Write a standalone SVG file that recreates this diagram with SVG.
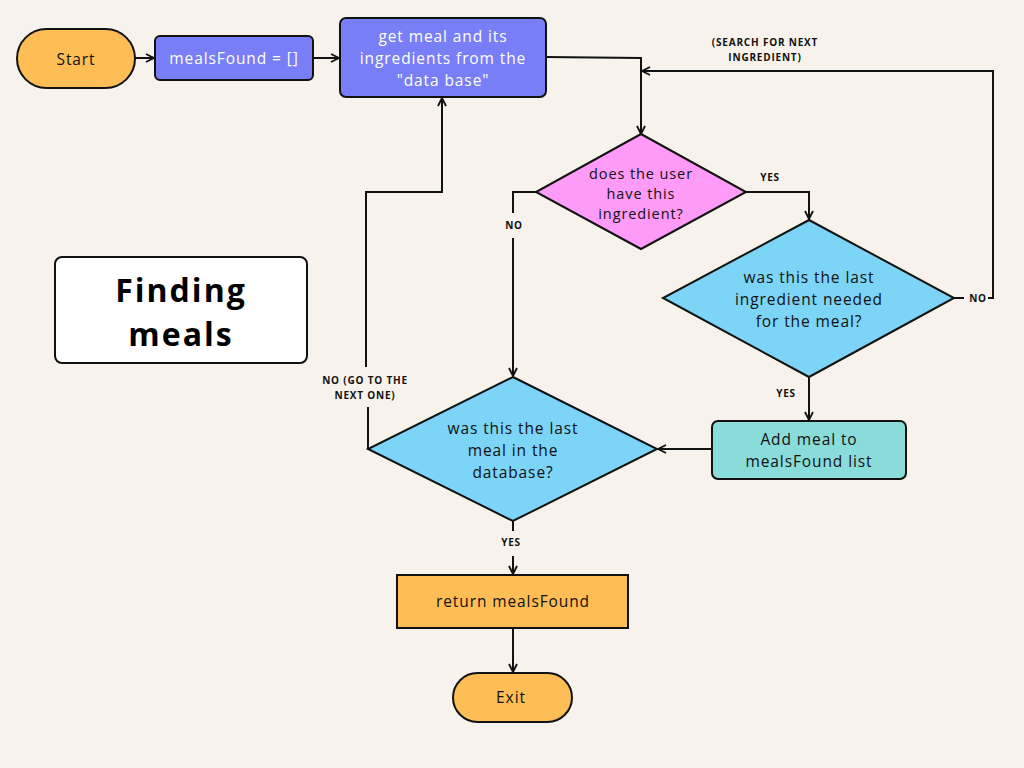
<svg xmlns="http://www.w3.org/2000/svg" width="1024" height="768" viewBox="0 0 1024 768">
<defs>
<marker id="arr" viewBox="0 0 10 10" refX="9" refY="5" markerWidth="10" markerHeight="10" markerUnits="userSpaceOnUse" orient="auto">
<path d="M1,1 L9,5 L1,9" fill="none" stroke="#111" stroke-width="1.8"/>
</marker>
<style>
.c{fill:none;stroke:#111;stroke-width:2}
.n{stroke:#111;stroke-width:2}
.t{font-family:"Open Sans","Liberation Sans",sans-serif;font-size:15.5px;letter-spacing:0.9px;text-anchor:middle;dominant-baseline:central;fill:#111}
.s{font-size:14.5px}
.w{fill:#fff}
.l{font-family:"Open Sans","Liberation Sans",sans-serif;font-size:10px;font-weight:bold;letter-spacing:0.8px;text-anchor:middle;dominant-baseline:central;fill:#111}
.h{font-family:"Open Sans","Liberation Sans",sans-serif;font-size:32px;font-weight:bold;letter-spacing:2px;text-anchor:middle;dominant-baseline:central;fill:#000}
</style>
</defs>
<rect width="1024" height="768" fill="#f7f3ec"/>
<g id="connectors">
<path class="c" d="M135,58 H154" marker-end="url(#arr)"/>
<path class="c" d="M313,58 H339" marker-end="url(#arr)"/>
<path class="c" d="M546,57 L641,58 V134" marker-end="url(#arr)"/>
<path class="c" d="M954,298 H964"/>
<path class="c" d="M988,298 H993 V71 H642" marker-end="url(#arr)"/>
<path class="c" d="M746,192 H809 V219" marker-end="url(#arr)"/>
<path class="c" d="M536,192 H513 V213"/>
<path class="c" d="M513,238 V376" marker-end="url(#arr)"/>
<path class="c" d="M809,377 V420" marker-end="url(#arr)"/>
<path class="c" d="M712,449 H658" marker-end="url(#arr)"/>
<path class="c" d="M368,449 V407"/>
<path class="c" d="M366,367 V192 H442 V98" marker-end="url(#arr)"/>
<path class="c" d="M513,521 V531"/>
<path class="c" d="M513,556 V574" marker-end="url(#arr)"/>
<path class="c" d="M513,628 V672" marker-end="url(#arr)"/>
<text class="l" x="765" y="42">(SEARCH FOR NEXT</text>
<text class="l" x="765" y="57">INGREDIENT)</text>
<text class="l" x="770" y="177">YES</text>
<text class="l" x="978" y="298">NO</text>
<text class="l" x="514" y="225">NO</text>
<text class="l" x="786" y="393">YES</text>
<text class="l" x="365" y="380">NO (GO TO THE</text>
<text class="l" x="365" y="395">NEXT ONE)</text>
<text class="l" x="511" y="542">YES</text>
</g>
<g id="start">
<rect class="n" x="17" y="29" width="118" height="59" rx="29.5" fill="#ffbe55"/>
<text class="t" x="76" y="58.5">Start</text>
</g>
<g id="init">
<rect class="n" x="155" y="36" width="158" height="44" rx="5" fill="#787ef5"/>
<text class="t w" x="234" y="58">mealsFound = []</text>
</g>
<g id="getmeal">
<rect class="n" x="340" y="18" width="206" height="79" rx="6" fill="#787ef5"/>
<text class="t w" x="443" y="36">get meal and its</text>
<text class="t w" x="443" y="58">ingredients from the</text>
<text class="t w" x="443" y="80">"data base"</text>
</g>
<g id="hasIngredient">
<polygon class="n" points="641,134 746,192 641,249 536,192" fill="#fe9af8"/>
<text class="t s" x="641" y="173">does the user</text>
<text class="t s" x="641" y="193">have this</text>
<text class="t s" x="641" y="213">ingredient?</text>
</g>
<g id="lastIngredient">
<polygon class="n" points="809,220 954,298 809,377 663,298" fill="#7cd4f6"/>
<text class="t" x="809" y="277">was this the last</text>
<text class="t" x="809" y="299">ingredient needed</text>
<text class="t" x="809" y="321">for the meal?</text>
</g>
<g id="addMeal">
<rect class="n" x="712" y="421" width="194" height="58" rx="6" fill="#8adcda"/>
<text class="t" x="809" y="439">Add meal to</text>
<text class="t" x="809" y="461">mealsFound list</text>
</g>
<g id="lastMeal">
<polygon class="n" points="513,377 657,449 513,521 368,449" fill="#7cd4f6"/>
<text class="t" x="513" y="428">was this the last</text>
<text class="t" x="513" y="450">meal in the</text>
<text class="t" x="513" y="472">database?</text>
</g>
<g id="return">
<rect class="n" x="397" y="575" width="231" height="53" fill="#ffbe55"/>
<text class="t" x="513" y="601">return mealsFound</text>
</g>
<g id="exit">
<rect class="n" x="453" y="673" width="119" height="49" rx="24.5" fill="#ffbe55"/>
<text class="t" x="511" y="697">Exit</text>
</g>
<g id="title">
<rect class="n" x="55" y="257" width="252" height="106" rx="7" fill="#fff"/>
<text class="h" x="181" y="289">Finding</text>
<text class="h" x="181" y="333">meals</text>
</g>
</svg>
